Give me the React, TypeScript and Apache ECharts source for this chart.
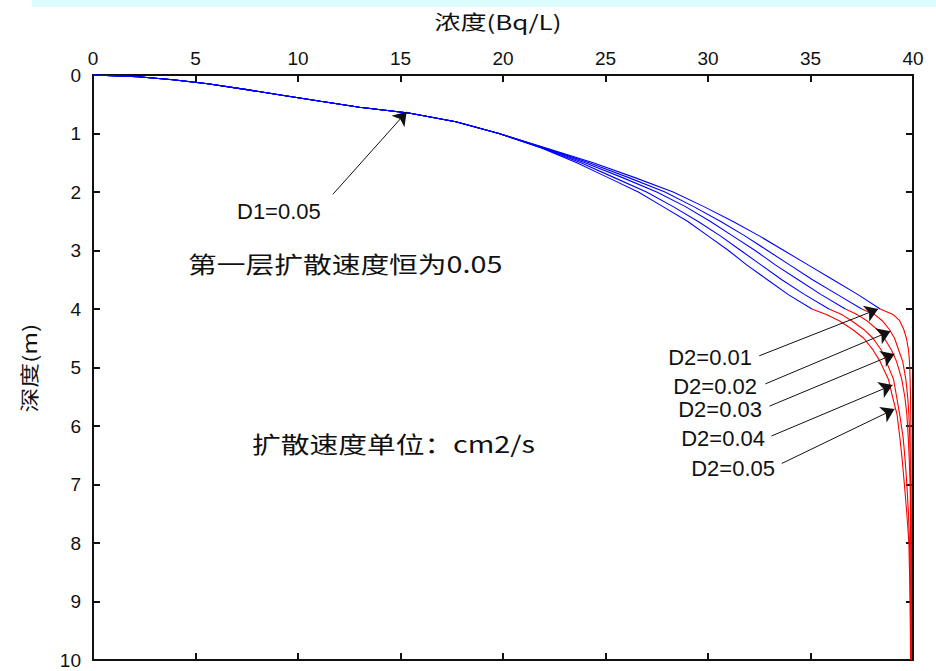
import { useEffect, useRef } from 'react';
import * as echarts from 'echarts';

// Concentration axis (top) and depth axis (left, downward)
const CONC_MIN = 0;
const CONC_MAX = 40;
const CONC_STEP = 5;
const DEPTH_MIN = 0;
const DEPTH_MAX = 10;
const DEPTH_STEP = 1;

// First layer (0-4 m): depth samples shared by all five profiles
const LAYER1_DEPTH = [0, 0.03, 0.08, 0.15, 0.25, 0.35, 0.45, 0.55, 0.65, 0.8, 1.0, 1.25, 1.5, 1.75, 2.0, 2.25, 2.5, 2.75, 3.0, 3.25, 3.5, 3.75, 4.0];
// Upper part is identical for every profile (D1 = 0.05 everywhere)
const LAYER1_TOP = [0, 2.2, 3.9, 5.6, 7.5, 9.3, 11.1, 13.0, 15.4, 17.7, 19.8];
const LAYER1_D201 = [...LAYER1_TOP, 22.1, 24.4, 26.4, 28.3, 29.8, 31.2, 32.5, 33.7, 34.9, 36.1, 37.3, 38.4];
const LAYER1_D202 = [...LAYER1_TOP, 22.05, 24.2, 26.1, 27.9, 29.3, 30.6, 31.8, 32.9, 34.0, 35.1, 36.3, 37.5];
const LAYER1_D203 = [...LAYER1_TOP, 22.0, 24.0, 25.8, 27.5, 28.9, 30.1, 31.2, 32.3, 33.3, 34.4, 35.5, 36.7];
const LAYER1_D204 = [...LAYER1_TOP, 21.95, 23.8, 25.4, 27.0, 28.3, 29.5, 30.6, 31.6, 32.6, 33.6, 34.7, 35.9];
const LAYER1_D205 = [...LAYER1_TOP, 21.9, 23.6, 25.1, 26.6, 27.8, 29.0, 30.0, 31.0, 31.9, 32.9, 33.9, 35.07];

// Second layer (4-10 m)
const LAYER2_DEPTH = [4.0, 4.1, 4.2, 4.35, 4.5, 4.7, 4.9, 5.2, 5.5, 5.8, 6.2, 6.6, 7.0, 7.5, 8.0, 9.0, 10.0];
const LAYER2_D201 = [38.4, 39.05, 39.35, 39.55, 39.68, 39.78, 39.83, 39.86, 39.88, 39.89, 39.9, 39.9, 39.91, 39.91, 39.92, 39.92, 39.92];
const LAYER2_D202 = [37.5, 38.15, 38.5, 38.85, 39.1, 39.3, 39.5, 39.65, 39.74, 39.8, 39.84, 39.87, 39.88, 39.9, 39.9, 39.91, 39.91];
const LAYER2_D203 = [36.7, 37.3, 37.75, 38.25, 38.6, 38.95, 39.2, 39.45, 39.6, 39.7, 39.77, 39.82, 39.86, 39.88, 39.89, 39.9, 39.9];
const LAYER2_D204 = [35.9, 36.55, 37.0, 37.6, 38.05, 38.45, 38.7, 39.05, 39.2, 39.35, 39.52, 39.62, 39.7, 39.78, 39.83, 39.87, 39.89];
const LAYER2_D205 = [35.07, 35.8, 36.4, 37.05, 37.6, 38.05, 38.4, 38.8, 39.0, 39.22, 39.36, 39.48, 39.58, 39.7, 39.8, 39.86, 39.88];

const PROFILE_NAMES = ['D2=0.01', 'D2=0.02', 'D2=0.03', 'D2=0.04', 'D2=0.05'];
const LAYER1_CONC = [LAYER1_D201, LAYER1_D202, LAYER1_D203, LAYER1_D204, LAYER1_D205];
const LAYER2_CONC = [LAYER2_D201, LAYER2_D202, LAYER2_D203, LAYER2_D204, LAYER2_D205];

// Annotation arrows in data space: [concentration, depth]
const ARROW_LABELS = ['D1=0.05', ...PROFILE_NAMES];
const ARROW_FROM = [[11.7, 2.04], [32.5, 4.8], [32.8, 5.28], [33.0, 5.66], [33.1, 6.17], [33.6, 6.64]];
const ARROW_TO = [[15.3, 0.63], [38.3, 4.0], [38.9, 4.38], [39.1, 4.77], [39.0, 5.3], [39.1, 5.71]];

const LATIN = '"Liberation Sans", Arial, sans-serif';
const CJK = '"Noto Sans CJK SC", sans-serif';

function profileSeries(depth: number[], conc: number[], name: string, color: string) {
  return {
    type: 'line',
    name,
    xAxisIndex: 0,
    yAxisIndex: 0,
    data: depth.map((d, i) => [conc[i], d]),
    showSymbol: false,
    symbol: 'none',
    lineStyle: { color, width: 1.1 },
    itemStyle: { color },
    silent: true,
    z: 3,
  };
}

function buildOption() {
  const axisLine = { show: true, onZero: false, lineStyle: { color: '#111', width: 2 } };
  const axisTick = { show: true, inside: true, length: 7, lineStyle: { color: '#111', width: 2 } };
  const tickLabel = { color: '#111', fontSize: 19, lineHeight: 16, fontFamily: LATIN };

  const series: any[] = [];
  LAYER1_CONC.forEach((c, i) => series.push(profileSeries(LAYER1_DEPTH, c, PROFILE_NAMES[i] + ' L1', '#0000ff')));
  LAYER2_CONC.forEach((c, i) => series.push(profileSeries(LAYER2_DEPTH, c, PROFILE_NAMES[i] + ' L2', '#ff0000')));
  series.push({
    type: 'lines',
    coordinateSystem: 'cartesian2d',
    xAxisIndex: 0,
    yAxisIndex: 0,
    symbol: ['none', 'arrow'],
    symbolSize: 13,
    lineStyle: { color: '#111', width: 1, opacity: 1 },
    itemStyle: { color: '#111' },
    silent: true,
    z: 5,
    data: ARROW_FROM.map((from, i) => ({ name: ARROW_LABELS[i], coords: [from, ARROW_TO[i]] })),
  });

  const d2Anchors = [
    [752, 357],
    [757, 386],
    [762, 409],
    [765, 438],
    [775, 468],
  ];

  const graphic: any[] = [
    { type: 'rect', shape: { x: 32, y: 0, width: 904, height: 7 }, style: { fill: '#dcfbfc' }, silent: true },
    {
      type: 'text', x: 498, y: 21, scaleX: 1.3,
      style: { text: '浓度(Bq/L)', fontSize: 20, fontFamily: CJK, fill: '#111', align: 'center', verticalAlign: 'middle' },
    },
    {
      type: 'text', x: 28, y: 368, rotation: Math.PI / 2, scaleX: 1.3,
      style: { text: '深度(m)', fontSize: 19, fontFamily: CJK, fill: '#111', align: 'center', verticalAlign: 'middle' },
    },
    {
      type: 'text', x: 188, y: 263, scaleX: 1.25,
      style: { text: '第一层扩散速度恒为0.05', fontSize: 23, fontFamily: CJK, fill: '#111', align: 'left', verticalAlign: 'middle' },
    },
    {
      type: 'text', x: 252, y: 443, scaleX: 1.25,
      style: { text: '扩散速度单位：cm2/s', fontSize: 23, fontFamily: CJK, fill: '#111', align: 'left', verticalAlign: 'middle' },
    },
    {
      type: 'text', x: 237, y: 211,
      style: { text: ARROW_LABELS[0], fontSize: 22, lineHeight: 18, fontFamily: LATIN, fill: '#111', align: 'left', verticalAlign: 'middle' },
    },
    ...PROFILE_NAMES.map((t, i) => ({
      type: 'text', x: d2Anchors[i][0], y: d2Anchors[i][1],
      style: { text: t, fontSize: 22, lineHeight: 18, fontFamily: LATIN, fill: '#111', align: 'right', verticalAlign: 'middle' },
    })),
  ];

  return {
    animation: false,
    backgroundColor: '#ffffff',
    grid: { left: 93, top: 75, width: 820, height: 585, containLabel: false, outerBoundsMode: 'none' },
    xAxis: [
      {
        type: 'value', position: 'top', min: CONC_MIN, max: CONC_MAX, interval: CONC_STEP,
        axisLine, axisTick, splitLine: { show: false },
        axisLabel: { ...tickLabel, margin: 9 },
      },
      {
        type: 'value', position: 'bottom', min: CONC_MIN, max: CONC_MAX, interval: CONC_STEP,
        axisLine, axisTick, splitLine: { show: false }, axisLabel: { show: false },
      },
    ],
    yAxis: [
      {
        type: 'value', position: 'left', inverse: true, min: DEPTH_MIN, max: DEPTH_MAX, interval: DEPTH_STEP,
        axisLine, axisTick, splitLine: { show: false },
        axisLabel: { ...tickLabel, margin: 12 },
      },
      {
        type: 'value', position: 'right', inverse: true, min: DEPTH_MIN, max: DEPTH_MAX, interval: DEPTH_STEP,
        axisLine, axisTick, splitLine: { show: false }, axisLabel: { show: false },
      },
    ],
    series,
    graphic,
  };
}

export default function App() {
  const ref = useRef<HTMLDivElement>(null);
  useEffect(() => {
    if (!ref.current) return;
    const chart = echarts.init(ref.current, null, { renderer: 'svg' });
    chart.setOption(buildOption() as any);
    return () => chart.dispose();
  }, []);
  return (
    <div
      ref={ref}
      style={{ position: 'fixed', left: 0, top: 0, width: 936, height: 671, background: '#ffffff' }}
    />
  );
}
